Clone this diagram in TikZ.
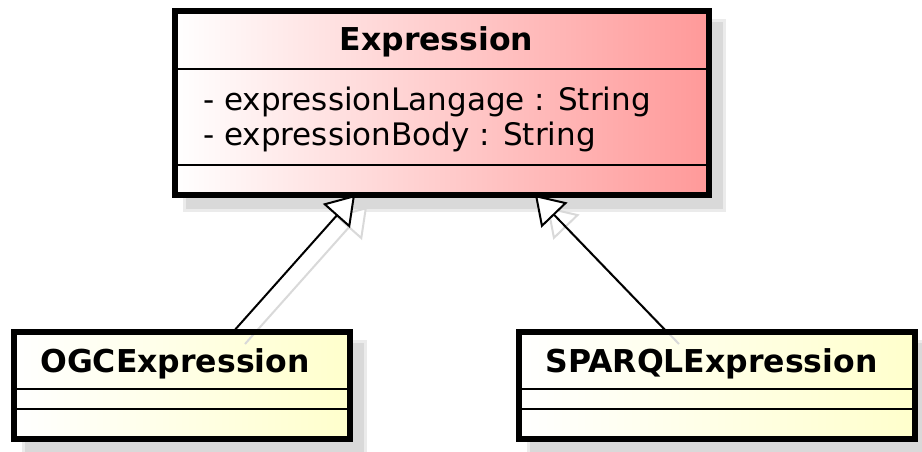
\documentclass[tikz,border=0pt]{standalone}
\usepackage{fontspec}
\setmainfont{DejaVu Sans}
\usetikzlibrary{arrows.meta,calc,backgrounds}

\begin{document}
\begin{tikzpicture}[x=1pt,y=-1pt,
  classfill/.style={rectangle, draw=none, outer sep=0pt, inner sep=0pt},
  classborder/.style={draw=black, line width=6pt},
  exprfill/.style={left color=white, right color={rgb,255:red,255;green,153;blue,153}},
  subfill/.style={left color=white, right color={rgb,255:red,255;green,255;blue,204}},
  divider/.style={draw=black, line width=2pt},
  boxshadow/.style={fill=black!15, draw=black!8, line width=3pt},
  classname/.style={font=\bfseries\fontsize{31.5}{38}\selectfont, anchor=base, inner sep=0pt},
  attr/.style={font=\fontsize{31}{37}\selectfont, anchor=base west, inner sep=0pt},
  inherit/.style={draw=black, line width=2pt,
    -{Triangle[length=28pt, width=36pt, fill=white, line width=2pt]}},
  inheritshadow/.style={draw=black!15, line width=2pt,
    -{Triangle[length=28pt, width=36pt, fill=white, line width=2pt]}}
]
\useasboundingbox (0,0) rectangle (922,451);

% class boxes (fill only; borders are stroked later)
\node[classfill, exprfill, minimum width=534pt, minimum height=184pt] (expr) at (442,103) {};
\node[classfill, subfill, minimum width=336pt, minimum height=107pt] (ogc) at (182,385.5) {};
\node[classfill, subfill, minimum width=396pt, minimum height=107pt] (sparql) at (717,385.5) {};

% white page and drop shadows of the boxes
\begin{scope}[on background layer]
  \fill[white] (0,0) rectangle (922,451);
  \path[boxshadow] ($(expr.north west)+(9,9)$) rectangle ($(expr.south east)+(15,15)$);
  \path[boxshadow] ($(ogc.north west)+(9,9)$) rectangle ($(ogc.south east)+(15,15)$);
  \path[boxshadow] ($(sparql.north west)+(9,9)$) rectangle ($(sparql.south east)+(15,15)$);
\end{scope}

% end points of the generalisation links
\coordinate (ogcend) at (233,0 |- ogc.north);
\coordinate (ogctip) at (355,0 |- expr.south);
\coordinate (sparqlend) at (667,0 |- sparql.north);
\coordinate (sparqltip) at (535,0 |- expr.south);

% shadows of the links
\draw[inheritshadow] ($(ogcend)+(12,12)$) -- ($(ogctip)+(12,12)$);
\draw[inheritshadow] ($(sparqlend)+(12,12)$) -- ($(sparqltip)+(12,12)$);

% generalisation links
\draw[inherit] (ogcend) -- (ogctip);
\draw[inherit] (sparqlend) -- (sparqltip);

% box borders and compartment lines
\draw[classborder] (expr.north west) rectangle (expr.south east);
\draw[classborder] (ogc.north west) rectangle (ogc.south east);
\draw[classborder] (sparql.north west) rectangle (sparql.south east);

\draw[divider] (expr.west |- 0,69) -- (expr.east |- 0,69);
\draw[divider] (expr.west |- 0,165) -- (expr.east |- 0,165);
\draw[divider] (ogc.west |- 0,389) -- (ogc.east |- 0,389);
\draw[divider] (ogc.west |- 0,409) -- (ogc.east |- 0,409);
\draw[divider] (sparql.west |- 0,389) -- (sparql.east |- 0,389);
\draw[divider] (sparql.west |- 0,409) -- (sparql.east |- 0,409);

% texts
\node[classname] (exprname) at (436.5,50.5) {Expression};
\node[attr] (attrlang) at (203,110) {- expressionLangage : String};
\node[attr] (attrbody) at (203,145) {- expressionBody : String};
\node[classname] (ogcname) at (175,372) {OGCExpression};
\node[classname] (sparqlname) at (711.5,372) {SPARQLExpression};
\end{tikzpicture}
\end{document}
